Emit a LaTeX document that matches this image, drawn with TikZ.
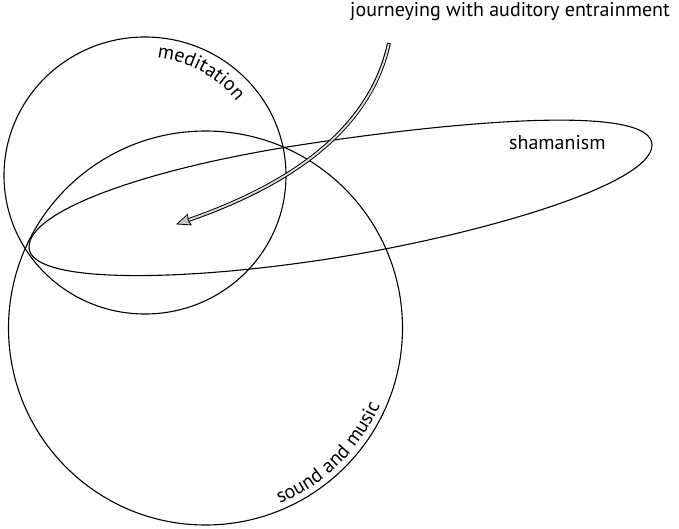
\documentclass[tikz,border=0pt]{standalone}
\usepackage{fontspec}
\setmainfont{PT Sans}
\usetikzlibrary{decorations.text}
\begin{document}
\begin{tikzpicture}[x=1pt,y=1pt,
  outline/.style={draw=black,line width=1.1pt},
  label/.style={font=\fontsize{20}{24}\selectfont,inner sep=0pt}]
\useasboundingbox (0,0) rectangle (679,528);

% meditation
\draw[outline] (145,352.5) ellipse[x radius=141,y radius=138.5];
% sound and music
\draw[outline] (205.5,200) circle[radius=197];
% shamanism: an egg-shaped loop, pointed at the left
\draw[outline] (29,281)
  .. controls (29,318) and (150,360) .. (300,383)
  .. controls (450,406) and (652,425) .. (652,383)
  .. controls (652,340) and (450,285) .. (300,265)
  .. controls (170,247) and (29,245) .. cycle;

% curved labels
\path[decorate,decoration={text along path,text align=center,
  text format delimiters={|}{|},
  text={|\fontsize{20}{24}\selectfont|meditation}}]
  (145,352.5) ++(88:118) arc[start angle=88,end angle=35,radius=118];
\path[decorate,decoration={text along path,text align=center,
  text format delimiters={|}{|},
  text={|\fontsize{20}{24}\selectfont|sound and music}}]
  (205.5,200) ++(-70:191) arc[start angle=-70,end angle=-21,radius=191];

\node[label,anchor=base west] (sham) at (509,378) {shamanism};
\node[label,anchor=base west] (journ) at (350,511) {journeying with auditory entrainment};

% hollow arrow
\coordinate (a0) at (389,485);
\coordinate (a1) at (177,304);
\draw[line width=3.8pt,black,shorten >=11pt] (a0) .. controls (370,398) and (290,343) .. (a1);
\draw[line width=1.8pt,gray!25,shorten >=10pt,shorten <=0.9pt] (a0) .. controls (370,398) and (290,343) .. (a1);
\draw[line width=0.8pt,fill=gray!45,line join=miter] (a1) -- (187.5,313.5) -- (188.2,307.5) -- (191.1,303.1) -- cycle;
\end{tikzpicture}
\end{document}
